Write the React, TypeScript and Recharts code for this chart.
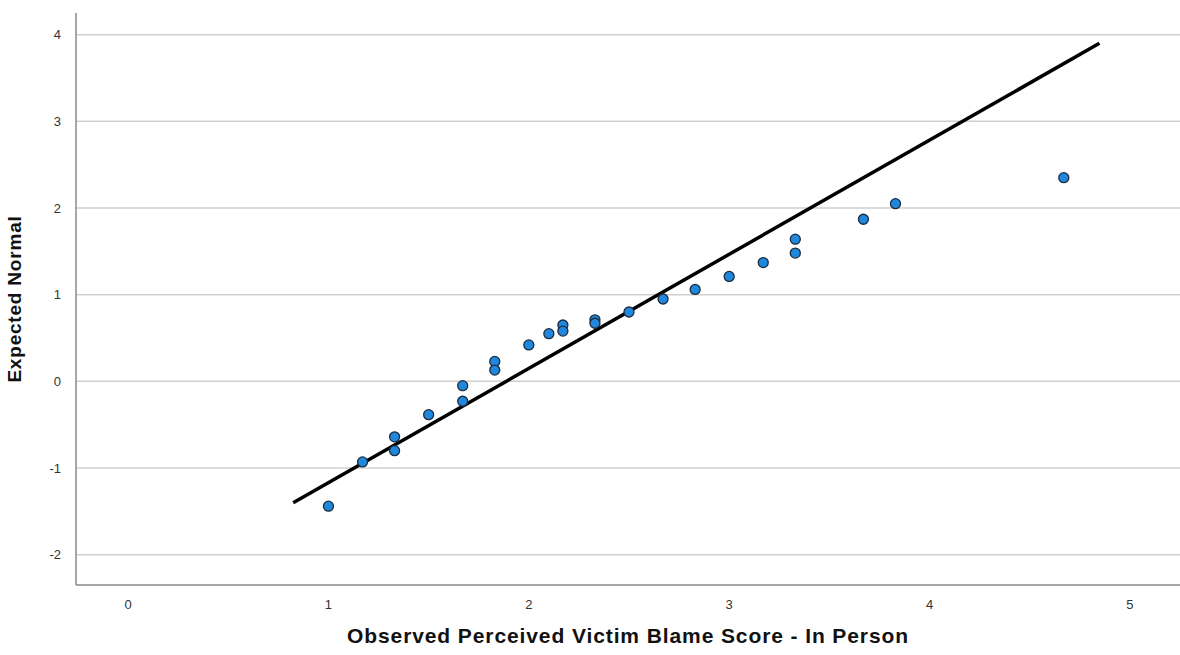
import React from 'react';
import { ScatterChart, Scatter, XAxis, YAxis, ReferenceLine, Label } from 'recharts';

// observed score vs expected normal value (Q-Q plot)
const observed = [1.0, 1.17, 1.33, 1.33, 1.5, 1.67, 1.67, 1.83, 1.83, 2.0, 2.1, 2.17, 2.17, 2.33, 2.33, 2.5, 2.67, 2.83, 3.0, 3.17, 3.33, 3.33, 3.67, 3.83, 4.67];
const expected = [-1.44, -0.93, -0.64, -0.8, -0.385, -0.05, -0.23, 0.23, 0.13, 0.42, 0.55, 0.65, 0.58, 0.71, 0.67, 0.8, 0.95, 1.06, 1.21, 1.37, 1.64, 1.48, 1.87, 2.05, 2.35];

// reference line endpoints
const lineX = [0.824, 4.848];
const lineY = [-1.4, 3.9];

const xTicks = [0, 1, 2, 3, 4, 5];
const yTicks = [-2, -1, 0, 1, 2, 3, 4];

const points = observed.map((x, i) => ({ x, y: expected[i] }));

const font = 'Liberation Sans, Arial, sans-serif';

const Dot = (props: any) => {
    const { cx, cy } = props;
    return <circle cx={cx} cy={cy} r={5} fill="#1f88dc" stroke="#1b2c40" strokeWidth={1.3} />;
};

export default function App() {
    return (
        <div style={{ position: 'absolute', left: 0, top: 0, background: '#fff' }}>
            <ScatterChart width={1180} height={655} margin={{ top: 13, right: 0, bottom: 0, left: 0 }}>
                {yTicks.map((t) => (
                    <ReferenceLine key={t} y={t} stroke="#cfcfcf" strokeWidth={1.5} />
                ))}
                <XAxis
                    dataKey="x"
                    type="number"
                    domain={[-0.26, 5.25]}
                    ticks={xTicks}
                    height={70}
                    tickLine={false}
                    axisLine={{ stroke: '#8a8a8a', strokeWidth: 1.5 }}
                    tickMargin={9}
                    tick={{ fill: '#333', fontSize: 13, fontFamily: font }}
                >
                    <Label
                        value="Observed Perceived Victim Blame Score - In Person"
                        position="insideBottom"
                        offset={12}
                        style={{ fill: '#111', fontSize: 21, fontWeight: 'bold', fontFamily: font, letterSpacing: 0.9 }}
                    />
                </XAxis>
                <YAxis
                    dataKey="y"
                    type="number"
                    domain={[-2.35, 4.25]}
                    ticks={yTicks}
                    width={76}
                    tickLine={false}
                    axisLine={{ stroke: '#8a8a8a', strokeWidth: 1.5 }}
                    tickMargin={9}
                    tick={{ fill: '#333', fontSize: 13, fontFamily: font }}
                >
                    <Label
                        value="Expected Normal"
                        angle={-90}
                        position="insideLeft"
                        offset={14}
                        style={{ fill: '#111', fontSize: 19, fontWeight: 'bold', fontFamily: font, textAnchor: 'middle', letterSpacing: 0.8 }}
                    />
                </YAxis>
                <ReferenceLine
                    segment={[{ x: lineX[0], y: lineY[0] }, { x: lineX[1], y: lineY[1] }]}
                    stroke="#000"
                    strokeWidth={3.5}
                    ifOverflow="visible"
                />
                <Scatter data={points} shape={<Dot />} isAnimationActive={false} />
            </ScatterChart>
        </div>
    );
}
